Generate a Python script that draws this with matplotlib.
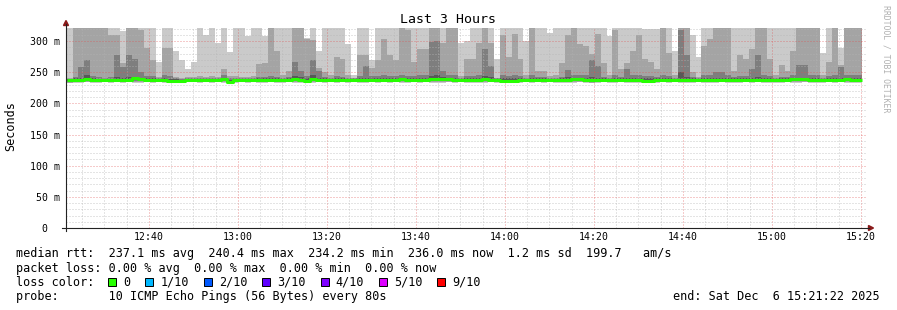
import numpy as np
import matplotlib
matplotlib.use("Agg")
import matplotlib.pyplot as plt
from matplotlib.lines import Line2D
from matplotlib.patches import Polygon, Rectangle

W, H = 897, 310
MONO = "DejaVu Sans Mono"

# time axis in minutes after 12:00
VIEW_START = 21 + 22 / 60          # 12:21:22
VIEW_END = VIEW_START + 180        # 15:21:22
FIRST_SLOT = 21.5
STEP_MIN = 80 / 60                 # one probe round every 80 s
C = 345.0                          # ping above the top of the chart

# sorted pings per round (ms), p10 = slowest ... p1 = fastest
p10 = [C, C, C, C, C, C, C, C, C, 316,
       C, C, C, C, C, 266, C, C, 284, 270,
       255, 266, C, 310, C, 297, C, 282, C, C,
       308, C, C, 308, C, C, C, C, C, C,
       305, C, 284, C, C, C, C, 295, 245, C,
       C, 270, C, C, C, C, C, C, C, C,
       C, C, C, C, C, C, 297, 300, C, C,
       C, C, 272, C, C, C, C, 300, C, C,
       C, 313, C, C, C, C, C, C, C, C,
       C, 308, C, C, C, C, C, 319, 319, 319,
       C, C, 284, C, C, 310, 275, C, C, C,
       C, C, C, C, C, C, C, C, C, C,
       C, C, C, C, C, C, C, 281, C, C,
       289, C, C, C]
p9 = [241, C, C, C, C, C, C, 310, 310, 265,
      C, C, 318, 289, 270, 243, 289, 289, 242, 241,
      242, 243, 244, 243, 244, 243, 255, 244, 244, 243,
      243, 244, 263, 265, C, 284, 245, 252, C, C,
      303, 302, 256, 250, 245, 275, 272, 245, 241, 277,
      277, 256, 270, 303, 277, 270, C, 318, 267, 287,
      287, C, C, 297, C, C, 244, 272, 272, 297,
      C, 297, 241, 310, 275, 312, 272, 245, C, 252,
      252, 244, 245, 265, 310, C, 295, 292, 280, 312,
      265, 245, 318, 255, 265, 284, 310, 272, 267, 255,
      C, 281, 245, C, C, 250, 243, 292, 303, C,
      C, C, 252, 277, 272, 287, C, C, 272, 245,
      262, 252, 284, C, C, C, C, 245, 267, C,
      262, C, C, C]
p8 = [239, 242, 258, 270, 244, 242, 241, 242, 277, 258,
      277, 272, 250, 244, 244, 240, 245, 244, 240, 239,
      240, 240, 241, 240, 241, 240, 246, 240, 241, 240,
      240, 241, 243, 243, 244, 243, 241, 242, 267, 252,
      244, 270, 252, 243, 241, 244, 243, 241, 240, 244,
      260, 244, 244, 245, 244, 244, 245, 244, 244, 245,
      245, 298, 300, 252, 245, 246, 241, 244, 244, 245,
      287, 260, 240, 246, 244, 245, 244, 241, 246, 242,
      242, 241, 241, 243, 254, 246, 245, 245, 270, 260,
      243, 241, 245, 243, 255, 246, 246, 244, 244, 243,
      246, 244, 241, 318, 277, 242, 240, 245, 246, 250,
      250, 246, 243, 244, 244, 255, 277, 246, 244, 241,
      243, 243, 245, 262, 262, 246, 246, 241, 244, 245,
      258, 246, 246, 245]
p7 = [238.5, 240, 241, 245, 240, 239.5, 239.5, 239.5, 242, 241,
      243, 243, 241, 240, 240, 239, 240, 239, 238.5, 238,
      239, 239, 239.5, 239, 239.5, 239, 240, 238, 239, 239,
      239, 239.5, 240, 240, 240, 240, 239, 240, 244, 243,
      240, 245, 241, 240, 239.5, 240, 240, 239, 239, 240,
      241, 240, 240, 240, 240, 240, 240.5, 240, 240, 240,
      240, 244, 245, 242, 240.5, 240.5, 239, 240, 240, 240,
      244, 243, 239, 240, 240, 240, 240, 239, 240, 240,
      240, 239, 239.5, 240, 242, 241, 240.5, 240, 242, 241,
      240, 239, 240, 240, 241, 240, 240.5, 240, 240, 240,
      240.5, 240, 239, 250, 242, 240, 239, 240, 240.5, 241,
      241, 240.5, 240, 240, 240, 241, 242, 240.5, 240, 239,
      240, 240, 240.5, 241, 241, 240.5, 240, 239, 240, 240.5,
      241, 240.5, 240.5, 240.5]
median = [237.5, 237.5, 237.5, 239.0, 238.0, 237.5, 237.5, 237.5, 237.5, 237.5,
          238.0, 240.0, 239.0, 237.5, 238.0, 237.5, 237.5, 236.0, 235.5, 236.0,
          237.5, 237.5, 238.0, 238.0, 238.0, 238.0, 238.5, 235.0, 237.0, 237.5,
          237.5, 237.5, 238.0, 238.0, 238.0, 237.5, 237.0, 237.5, 238.5, 238.0,
          236.0, 238.5, 238.0, 238.0, 238.0, 238.0, 238.0, 237.5, 237.5, 238.0,
          238.0, 238.0, 238.0, 238.0, 238.0, 238.0, 238.5, 238.0, 238.0, 237.5,
          237.5, 238.5, 238.5, 238.5, 238.5, 238.0, 237.5, 237.5, 237.5, 238.0,
          238.5, 238.0, 237.0, 236.0, 236.0, 236.0, 237.0, 237.5, 237.5, 237.5,
          237.5, 238.0, 238.0, 238.0, 238.0, 238.5, 238.5, 238.0, 237.5, 237.5,
          237.5, 237.0, 237.5, 237.5, 237.5, 237.5, 238.0, 235.5, 235.5, 237.0,
          237.5, 237.5, 237.5, 237.5, 238.0, 238.0, 237.5, 237.5, 238.0, 238.0,
          238.0, 237.5, 237.5, 237.5, 237.5, 238.0, 238.0, 238.0, 237.5, 237.0,
          237.0, 237.5, 238.5, 238.5, 238.5, 238.0, 237.5, 237.5, 238.0, 238.0,
          238.0, 238.5, 238.0, 238.0]
p4 = [236.5, 236.5, 236.5, 237.5, 237.0, 236.5, 236.5, 236.5, 236.5, 236.5,
      237.0, 238.5, 237.5, 236.5, 237.0, 236.5, 236.5, 235.0, 234.5, 235.0,
      236.5, 236.5, 237.0, 237.0, 237.0, 237.0, 237.5, 234.5, 236.0, 236.5,
      236.5, 236.5, 237.0, 237.0, 237.0, 236.5, 236.0, 236.5, 237.5, 237.0,
      235.0, 237.5, 237.0, 237.0, 237.0, 237.0, 237.0, 236.5, 236.5, 237.0,
      237.0, 237.0, 237.0, 237.0, 237.0, 237.0, 237.5, 237.0, 237.0, 236.5,
      236.5, 237.5, 237.5, 237.5, 237.5, 237.0, 236.5, 236.5, 236.5, 237.0,
      237.5, 237.0, 236.0, 235.0, 235.0, 235.0, 236.0, 236.5, 236.5, 236.5,
      236.5, 237.0, 237.0, 237.0, 237.0, 237.5, 237.5, 237.0, 236.5, 236.5,
      236.5, 236.0, 236.5, 236.5, 236.5, 236.5, 237.0, 234.5, 234.5, 236.0,
      236.5, 236.5, 236.5, 236.5, 237.0, 237.0, 236.5, 236.5, 237.0, 237.0,
      237.0, 236.5, 236.5, 236.5, 236.5, 237.0, 237.0, 237.0, 236.5, 236.0,
      236.0, 236.5, 237.5, 237.5, 237.5, 237.0, 236.5, 236.5, 237.0, 237.0,
      237.0, 237.5, 237.0, 237.0]
p3 = [235.0, 235.5, 235.5, 236.0, 235.5, 235.0, 235.5, 235.5, 235.5, 235.0,
      235.5, 236.0, 235.5, 235.5, 235.5, 235.5, 235.5, 234.5, 234.0, 234.5,
      235.5, 235.5, 235.5, 235.5, 235.5, 235.5, 236.0, 234.0, 235.0, 235.5,
      235.5, 235.5, 235.5, 235.0, 235.5, 235.5, 235.0, 235.5, 235.5, 235.5,
      234.5, 235.5, 235.5, 235.5, 235.5, 235.5, 235.5, 235.5, 235.5, 235.5,
      235.5, 235.5, 235.5, 235.5, 235.5, 235.5, 236.0, 235.5, 235.5, 235.5,
      235.5, 236.0, 235.5, 236.0, 236.0, 235.5, 235.5, 235.5, 235.0, 235.5,
      236.0, 235.5, 235.0, 234.5, 234.5, 234.5, 235.0, 235.5, 235.5, 235.5,
      235.5, 235.5, 235.5, 235.5, 235.0, 236.0, 235.5, 235.5, 235.0, 235.5,
      235.5, 235.0, 235.5, 235.5, 235.0, 235.5, 235.5, 234.0, 234.0, 235.0,
      235.5, 235.5, 235.5, 235.0, 235.5, 235.5, 235.5, 235.5, 235.5, 235.5,
      235.5, 235.5, 235.0, 235.5, 235.5, 235.5, 236.0, 235.5, 235.0, 235.0,
      235.0, 235.5, 236.0, 235.5, 236.0, 235.5, 235.0, 235.5, 235.5, 235.5,
      235.5, 236.0, 235.5, 235.5]
p2 = [233.5, 234.0, 234.5, 235.0, 234.5, 234.0, 235.0, 234.5, 235.0, 234.0,
      235.0, 234.5, 234.0, 235.0, 234.5, 235.0, 234.5, 233.5, 233.5, 234.0,
      235.0, 235.0, 234.5, 235.0, 234.5, 235.0, 234.5, 233.5, 234.0, 235.0,
      234.5, 235.0, 234.5, 234.0, 235.0, 234.5, 234.0, 235.0, 234.5, 234.5,
      233.5, 234.0, 235.0, 234.5, 235.0, 234.5, 235.0, 234.5, 235.0, 234.5,
      234.0, 235.0, 234.5, 235.0, 234.5, 235.0, 234.0, 234.5, 235.0, 234.5,
      235.0, 234.5, 234.0, 234.5, 235.0, 234.5, 235.0, 234.5, 234.5, 234.0,
      234.5, 235.0, 234.5, 233.5, 234.0, 233.5, 234.5, 235.0, 234.5, 235.0,
      234.5, 235.0, 234.5, 234.5, 234.0, 234.5, 235.0, 234.5, 233.5, 234.0,
      235.0, 234.5, 234.0, 235.0, 234.0, 234.5, 234.5, 233.5, 233.0, 234.0,
      235.0, 234.5, 235.0, 234.0, 234.5, 234.5, 235.0, 234.5, 234.0, 234.5,
      235.0, 234.5, 234.0, 234.5, 235.0, 234.5, 235.0, 234.5, 234.0, 234.0,
      234.5, 235.0, 234.5, 234.5, 235.0, 234.5, 234.0, 234.5, 235.0, 234.5,
      235.0, 234.5, 234.0, 234.5]
p1 = [232.0, 232.5, 233.5, 234.0, 233.0, 232.5, 234.0, 233.5, 234.0, 233.0,
      234.0, 233.0, 232.5, 234.0, 233.5, 234.0, 233.0, 232.0, 233.0, 233.5,
      234.0, 234.0, 233.5, 234.0, 233.0, 234.0, 233.5, 232.5, 233.0, 234.0,
      233.5, 234.0, 233.0, 232.0, 234.0, 233.5, 233.0, 234.0, 233.5, 233.0,
      232.5, 233.0, 234.0, 233.5, 234.0, 233.0, 234.0, 233.5, 234.0, 233.0,
      232.5, 234.0, 233.5, 234.0, 233.0, 234.0, 232.5, 233.0, 234.0, 233.5,
      234.0, 233.0, 232.5, 233.5, 234.0, 233.0, 234.0, 233.5, 233.0, 232.5,
      233.0, 234.0, 233.5, 232.5, 233.0, 232.5, 233.5, 234.0, 233.0, 234.0,
      233.5, 234.0, 233.0, 233.5, 232.5, 233.0, 234.0, 233.5, 232.0, 233.0,
      234.0, 233.5, 233.0, 234.0, 232.5, 233.0, 233.5, 232.5, 232.0, 233.0,
      234.0, 233.5, 234.0, 232.5, 233.0, 233.5, 234.0, 233.0, 232.5, 233.5,
      234.0, 233.0, 232.5, 233.5, 234.0, 233.0, 234.0, 233.5, 232.0, 232.5,
      233.0, 234.0, 233.5, 233.0, 234.0, 233.5, 232.5, 233.0, 234.0, 233.5,
      234.0, 233.0, 232.5, 233.5]

x_major = [40, 60, 80, 100, 120, 140, 160, 180, 200]
x_labels = ["12:40", "13:00", "13:20", "13:40", "14:00", "14:20", "14:40", "15:00", "15:20"]
y_major = [0, 50, 100, 150, 200, 250, 300]
y_labels = ["0  ", "50 m", "100 m", "150 m", "200 m", "250 m", "300 m"]

loss_labels = ["0", "1/10", "2/10", "3/10", "4/10", "5/10", "9/10"]
loss_colors = ["#26ff00", "#00b8ff", "#0059ff", "#5e00ff", "#7e00ff", "#dd00ff", "#ff0000"]

stat_line = "median rtt:  237.1 ms avg  240.4 ms max  234.2 ms min  236.0 ms now  1.2 ms sd  199.7   am/s"
loss_line = "packet loss: 0.00 % avg  0.00 % max  0.00 % min  0.00 % now"
probe_line = "probe:       10 ICMP Echo Pings (56 Bytes) every 80s"
end_line = "end: Sat Dec  6 15:21:22 2025"


def fx(px):
    return px / W


def fy(py):
    return 1 - py / H


fig = plt.figure(figsize=(W / 100, H / 100), dpi=100)
ax = fig.add_axes([fx(66), fy(228), 801 / W, 200 / H])
ax.set_xlim(VIEW_START, VIEW_END)
ax.set_ylim(0, 321)
for s in ax.spines.values():
    s.set_visible(False)

n = len(median)
edges = FIRST_SLOT + STEP_MIN * np.arange(n + 1)


def stepped(a):
    a = np.asarray(a, dtype=float)
    return np.append(a, a[-1])


# smoke: outer pair of pings lightest, inner pairs darker
bands = [(p1, p10, "#cacaca"), (p2, p9, "#a4a4a4"),
         (p3, p8, "#7e7e7e"), (p4, p7, "#585858")]
for i, (lo, hi, col) in enumerate(bands):
    ax.fill_between(edges, stepped(lo), stepped(hi), step="post",
                    color=col, linewidth=0, zorder=1 + i * 0.1)

ax.step(edges, stepped(median), where="post", color=loss_colors[0],
        linewidth=2.2, zorder=6, solid_capstyle="butt")

# grid (dotted, drawn over the smoke like rrdtool does)
ax.set_xticks(x_major)
ax.set_xticklabels(x_labels)
ax.set_xticks(np.arange(25, 201, 5), minor=True)
ax.set_yticks(y_major)
ax.set_yticklabels(y_labels)
ax.set_yticks(np.arange(10, 321, 10), minor=True)
ax.set_axisbelow(False)
ax.grid(which="minor", color="#b4b4b4", alpha=0.7, linewidth=0.72,
        linestyle=(0, (1, 2)), zorder=4)
ax.grid(which="major", color="#e05050", alpha=0.6, linewidth=0.72,
        linestyle=(0, (1, 2)), zorder=4.5)
ax.tick_params(which="both", length=0)
ax.tick_params(axis="x", pad=3.0, labelsize=7.1)
ax.tick_params(axis="y", pad=4.3, labelsize=7.1)
for lab in ax.get_xticklabels() + ax.get_yticklabels():
    lab.set_fontfamily(MONO)

# axes with arrows
AXC = "#222222"
ARC = "#8a1a1a"
fig.add_artist(Line2D([fx(66), fx(66)], [fy(231), fy(24)], color=AXC, lw=0.8))
fig.add_artist(Line2D([fx(62), fx(869)], [fy(228), fy(228)], color=AXC, lw=0.8))
fig.add_artist(Polygon([[fx(63.5), fy(25.5)], [fx(68.5), fy(25.5)], [fx(66), fy(20.5)]],
                       closed=True, color=ARC, transform=fig.transFigure))
fig.add_artist(Polygon([[fx(868.5), fy(225.5)], [fx(868.5), fy(230.5)], [fx(873.5), fy(228)]],
                       closed=True, color=ARC, transform=fig.transFigure))

# texts
fig.text(fx(447.5), fy(19.5), "Last 3 Hours", ha="center", va="center",
         fontsize=9.5, family=MONO)
fig.text(fx(11), fy(126.5), "Seconds", ha="center", va="center",
         rotation=90, fontsize=8.5, family=MONO)
fig.text(fx(886), fy(59), "RRDTOOL / TOBI OETIKER", ha="center", va="center",
         rotation=270, fontsize=5.9, family=MONO, color="#b0b0b0")

LEG = 8.5
CW = 7.1
fig.text(fx(16), fy(254), stat_line, ha="left", va="center", fontsize=LEG, family=MONO)
fig.text(fx(16), fy(268.3), loss_line, ha="left", va="center", fontsize=LEG, family=MONO)
fig.text(fx(16), fy(282.3), "loss color:", ha="left", va="center", fontsize=LEG, family=MONO)
fig.text(fx(16), fy(296.7), probe_line, ha="left", va="center", fontsize=LEG, family=MONO)
fig.text(fx(880), fy(296.7), end_line, ha="right", va="center", fontsize=LEG, family=MONO)

sx = 108.3
for lab, col in zip(loss_labels, loss_colors):
    fig.add_artist(Rectangle((fx(sx), fy(286.2)), 8 / W, 8.5 / H, transform=fig.transFigure,
                             facecolor=col, edgecolor="black", linewidth=0.7))
    tx = sx + 15
    fig.text(fx(tx), fy(282.3), lab, ha="left", va="center", fontsize=LEG, family=MONO)
    sx = tx + len(lab) * CW + 15

fig.savefig("out.png", dpi=100)
